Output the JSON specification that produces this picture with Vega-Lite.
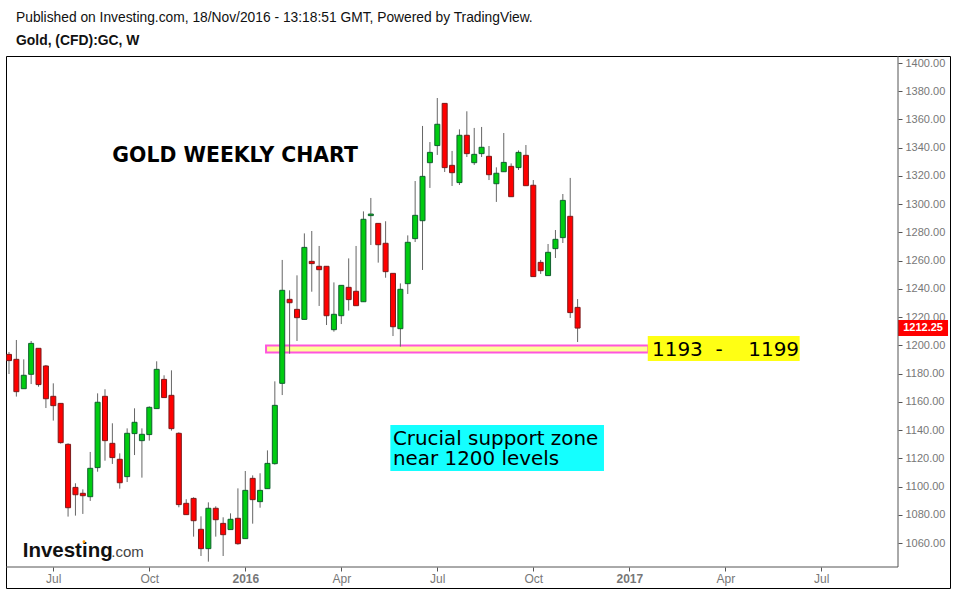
{"$schema":"https://vega.github.io/schema/vega-lite/v6.json","width":944,"height":532,"autosize":"none","padding":{"left":6,"top":56,"right":5,"bottom":3},"background":"white","config":{"view":{"stroke":"black","strokeWidth":1},"axis":{"grid":false}},"title":{"text":"Published on Investing.com, 18/Nov/2016 - 13:18:51 GMT, Powered by TradingView.","subtitle":"Gold, (CFD):GC, W","anchor":"start","frame":"group","dx":10,"offset":8,"font":"Liberation Sans","fontSize":13.8,"fontWeight":"normal","color":"#111","subtitleFont":"Liberation Sans","subtitleFontSize":13.9,"subtitleFontWeight":"bold","subtitleColor":"#111","subtitlePadding":9},"datasets":{"candles":[{"date":"2015-05-24","open":1193.6,"high":1195.3,"low":1179.7,"close":1189.2},{"date":"2015-05-31","open":1190.1,"high":1203.8,"low":1163.7,"close":1167.2},{"date":"2015-06-07","open":1169.3,"high":1190.1,"low":1169.3,"close":1178.8},{"date":"2015-06-14","open":1179.5,"high":1203.1,"low":1172.6,"close":1201.4},{"date":"2015-06-21","open":1197.9,"high":1197.9,"low":1170.7,"close":1172.2},{"date":"2015-06-28","open":1185.4,"high":1186.1,"low":1155.6,"close":1162.2},{"date":"2015-07-05","open":1163.9,"high":1173.1,"low":1146.7,"close":1157.3},{"date":"2015-07-12","open":1158.9,"high":1158.9,"low":1130.4,"close":1131.1},{"date":"2015-07-19","open":1129.9,"high":1130.6,"low":1078.7,"close":1085.0},{"date":"2015-07-26","open":1099.4,"high":1102.3,"low":1079.4,"close":1094.2},{"date":"2015-08-02","open":1095.2,"high":1098.0,"low":1080.6,"close":1093.5},{"date":"2015-08-09","open":1092.8,"high":1124.5,"low":1089.8,"close":1112.9},{"date":"2015-08-16","open":1113.4,"high":1166.0,"low":1110.5,"close":1159.7},{"date":"2015-08-23","open":1163.9,"high":1168.9,"low":1118.3,"close":1132.5},{"date":"2015-08-30","open":1130.6,"high":1144.8,"low":1116.0,"close":1120.5},{"date":"2015-09-06","open":1119.3,"high":1123.5,"low":1098.5,"close":1102.7},{"date":"2015-09-13","open":1107.0,"high":1141.2,"low":1103.2,"close":1137.7},{"date":"2015-09-20","open":1137.5,"high":1155.4,"low":1122.3,"close":1145.5},{"date":"2015-09-27","open":1132.5,"high":1141.2,"low":1106.3,"close":1137.0},{"date":"2015-10-04","open":1136.8,"high":1156.8,"low":1132.5,"close":1156.1},{"date":"2015-10-11","open":1155.2,"high":1188.7,"low":1155.2,"close":1183.0},{"date":"2015-10-18","open":1175.9,"high":1178.8,"low":1163.0,"close":1163.0},{"date":"2015-10-25","open":1164.6,"high":1182.3,"low":1139.6,"close":1141.0},{"date":"2015-11-01","open":1137.7,"high":1138.4,"low":1085.3,"close":1087.2},{"date":"2015-11-08","open":1088.1,"high":1091.0,"low":1080.1,"close":1080.1},{"date":"2015-11-15","open":1091.6,"high":1092.4,"low":1064.5,"close":1075.8},{"date":"2015-11-22","open":1069.7,"high":1078.9,"low":1050.8,"close":1056.0},{"date":"2015-11-29","open":1056.0,"high":1088.8,"low":1046.8,"close":1084.6},{"date":"2015-12-06","open":1084.6,"high":1086.0,"low":1064.5,"close":1076.5},{"date":"2015-12-13","open":1073.9,"high":1078.2,"low":1050.8,"close":1065.9},{"date":"2015-12-20","open":1069.5,"high":1081.0,"low":1069.5,"close":1076.8},{"date":"2015-12-27","open":1077.5,"high":1098.7,"low":1058.8,"close":1059.5},{"date":"2016-01-03","open":1063.1,"high":1111.0,"low":1063.1,"close":1097.3},{"date":"2016-01-10","open":1105.8,"high":1107.9,"low":1073.7,"close":1090.7},{"date":"2016-01-17","open":1089.3,"high":1109.4,"low":1085.0,"close":1097.3},{"date":"2016-01-24","open":1098.5,"high":1125.6,"low":1098.5,"close":1116.4},{"date":"2016-01-31","open":1116.2,"high":1174.5,"low":1115.5,"close":1157.5},{"date":"2016-02-07","open":1173.1,"high":1260.5,"low":1164.8,"close":1239.0},{"date":"2016-02-14","open":1232.6,"high":1239.0,"low":1194.1,"close":1230.2},{"date":"2016-02-21","open":1225.5,"high":1249.6,"low":1203.1,"close":1219.6},{"date":"2016-02-28","open":1218.4,"high":1279.3,"low":1218.4,"close":1269.4},{"date":"2016-03-06","open":1259.5,"high":1281.0,"low":1238.0,"close":1257.9},{"date":"2016-03-13","open":1256.0,"high":1270.4,"low":1227.9,"close":1253.6},{"date":"2016-03-20","open":1256.0,"high":1256.0,"low":1214.4,"close":1221.0},{"date":"2016-03-27","open":1211.1,"high":1244.6,"low":1209.7,"close":1222.0},{"date":"2016-04-03","open":1221.0,"high":1242.5,"low":1215.1,"close":1242.5},{"date":"2016-04-10","open":1241.1,"high":1261.6,"low":1224.6,"close":1232.4},{"date":"2016-04-17","open":1238.3,"high":1270.4,"low":1228.1,"close":1228.1},{"date":"2016-04-24","open":1230.9,"high":1294.9,"low":1230.9,"close":1289.3},{"date":"2016-05-01","open":1291.9,"high":1304.4,"low":1271.1,"close":1293.0},{"date":"2016-05-08","open":1286.4,"high":1286.4,"low":1258.6,"close":1271.3},{"date":"2016-05-15","open":1272.3,"high":1287.9,"low":1247.9,"close":1252.2},{"date":"2016-05-22","open":1251.0,"high":1251.0,"low":1206.6,"close":1213.2},{"date":"2016-05-29","open":1211.8,"high":1243.9,"low":1199.1,"close":1239.7},{"date":"2016-06-05","open":1243.7,"high":1277.9,"low":1236.4,"close":1273.0},{"date":"2016-06-12","open":1275.6,"high":1316.4,"low":1273.2,"close":1292.1},{"date":"2016-06-19","open":1288.3,"high":1355.4,"low":1253.4,"close":1319.7},{"date":"2016-06-26","open":1329.4,"high":1344.0,"low":1311.5,"close":1336.7},{"date":"2016-07-03","open":1341.5,"high":1375.2,"low":1334.9,"close":1356.6},{"date":"2016-07-10","open":1371.4,"high":1371.4,"low":1322.8,"close":1325.9},{"date":"2016-07-17","open":1327.5,"high":1337.7,"low":1312.9,"close":1322.3},{"date":"2016-07-24","open":1315.3,"high":1353.0,"low":1313.6,"close":1348.8},{"date":"2016-07-31","open":1348.8,"high":1365.8,"low":1333.4,"close":1335.8},{"date":"2016-08-07","open":1329.4,"high":1354.0,"low":1327.8,"close":1335.3},{"date":"2016-08-14","open":1335.8,"high":1354.7,"low":1333.4,"close":1340.3},{"date":"2016-08-21","open":1333.9,"high":1341.2,"low":1317.1,"close":1320.9},{"date":"2016-08-28","open":1314.5,"high":1326.1,"low":1301.6,"close":1321.9},{"date":"2016-09-04","open":1323.0,"high":1350.4,"low":1323.0,"close":1329.6},{"date":"2016-09-11","open":1326.8,"high":1328.9,"low":1305.3,"close":1305.3},{"date":"2016-09-18","open":1325.9,"high":1338.1,"low":1324.2,"close":1336.7},{"date":"2016-09-25","open":1334.6,"high":1341.9,"low":1313.1,"close":1313.1},{"date":"2016-10-02","open":1313.4,"high":1317.1,"low":1248.7,"close":1248.7},{"date":"2016-10-09","open":1258.8,"high":1260.5,"low":1250.6,"close":1252.9},{"date":"2016-10-16","open":1249.4,"high":1271.8,"low":1249.4,"close":1265.9},{"date":"2016-10-23","open":1268.5,"high":1281.7,"low":1261.9,"close":1275.1},{"date":"2016-10-30","open":1276.3,"high":1307.2,"low":1272.5,"close":1302.7},{"date":"2016-11-06","open":1291.4,"high":1318.6,"low":1219.4,"close":1223.2},{"date":"2016-11-13","open":1226.9,"high":1232.8,"low":1202.4,"close":1212.25}],"boxes":[{"date":"2017-01-18T12:00:00Z","date2":"2017-06-11T12:00:00Z","value":1188.9,"value2":1206.6,"kind":"range"},{"date":"2016-05-19T12:00:00Z","date2":"2016-12-08T00:00:00Z","value":1111.0,"value2":1143.6,"kind":"note"},{"date":"2017-09-12T17:00:00Z","date2":"2017-10-30T03:00:00Z","value":1206.6,"value2":1218.0,"kind":"price"}]},"data":{"name":"candles"},"encoding":{"x":{"field":"date","type":"temporal","title":null,"scale":{"type":"utc","padding":0,"domain":[{"year":2015,"month":5,"date":21,"hours":4,"utc":true},{"year":2017,"month":11,"date":1,"utc":true}]},"axis":{"orient":"bottom","offset":-21,"domain":false,"tickSize":4,"tickColor":"#555","labelColor":"#777","labelFont":"Liberation Sans","labelFontSize":12,"labelPadding":2,"labelOverlap":false,"labelFlush":false,"labelBound":false,"labelExpr":"utcFormat(datum.value, utcmonth(datum.value)==0 ? '%Y' : '%b')","labelFontWeight":{"condition":{"test":"utcmonth(datum.value)==0","value":"bold"},"value":"normal"},"values":[{"year":2015,"month":7,"date":5,"utc":true},{"year":2015,"month":10,"date":4,"utc":true},{"year":2016,"month":1,"date":3,"utc":true},{"year":2016,"month":4,"date":3,"utc":true},{"year":2016,"month":7,"date":3,"utc":true},{"year":2016,"month":10,"date":2,"utc":true},{"year":2017,"month":1,"date":1,"utc":true},{"year":2017,"month":4,"date":2,"utc":true},{"year":2017,"month":7,"date":2,"utc":true}]}},"y":{"field":"value","type":"quantitative","title":null,"scale":{"domain":[1028.13,1404.96],"nice":false,"zero":false},"axis":{"orient":"right","offset":-52,"domain":false,"tickSize":4,"tickColor":"#555","labelColor":"#777","labelFont":"Liberation Sans","labelFontSize":11,"labelPadding":3,"labelOverlap":false,"format":".2f","values":[1060,1080,1100,1120,1140,1160,1180,1200,1220,1240,1260,1280,1300,1320,1340,1360,1380,1400]}}},"layer":[{"data":{"values":[{"date":"2016-01-22T16:00:00Z","date2":"2017-01-19T00:00:00Z","value":1194.9,"value2":1199.9}]},"mark":{"type":"rect","fill":"#ffff99","stroke":"#ff55dd","strokeWidth":2},"encoding":{"x2":{"field":"date2"},"y2":{"field":"value2"}}},{"data":{"name":"boxes"},"mark":{"type":"rect"},"encoding":{"x2":{"field":"date2"},"y2":{"field":"value2"},"color":{"field":"kind","type":"nominal","legend":null,"scale":{"domain":["range","note","price"],"range":["#ffff14","#14ffff","#ff0000"]}}}},{"mark":{"type":"rule","color":"#666","strokeWidth":1},"encoding":{"y":{"field":"low","type":"quantitative"},"y2":{"field":"high"}}},{"mark":{"type":"bar","width":5,"strokeWidth":1},"encoding":{"y":{"field":"open","type":"quantitative"},"y2":{"field":"close"},"fill":{"condition":{"test":"datum.close>=datum.open","value":"#00cc11"},"value":"#ff0000"},"stroke":{"condition":{"test":"datum.close>=datum.open","value":"#105f2e"},"value":"#7b1a1a"}}},{"data":{"values":[{"date":"2015-05-21T04:00:00Z","date2":"2017-09-12T17:00:00Z","value":1043}]},"mark":{"type":"rule","color":"#555","strokeWidth":1},"encoding":{"x2":{"field":"date2"}}},{"data":{"values":[{"date":"2017-09-12T17:00:00Z","value":1043,"value2":1404.96}]},"mark":{"type":"rule","color":"#555","strokeWidth":1},"encoding":{"y2":{"field":"value2"}}},{"data":{"values":[{"date":"2015-08-30T00:00:00Z","value":1329.9,"label":"GOLD WEEKLY CHART"}]},"mark":{"type":"text","align":"left","baseline":"alphabetic","font":"DejaVu Sans","fontWeight":"bold","fontSize":20.4,"color":"#000"},"encoding":{"text":{"field":"label"}}},{"data":{"values":[{"date":"2017-01-22T11:00:00Z","value":1192.5,"label":"1193\u00a0\u00a0-\u00a0\u00a0\u00a0\u00a01199"}]},"mark":{"type":"text","align":"left","baseline":"alphabetic","font":"DejaVu Sans","fontSize":20,"color":"#000"},"encoding":{"text":{"field":"label"}}},{"data":{"values":[{"date":"2016-05-21T23:00:00Z","value":1129.4,"label":"Crucial support zone\nnear 1200 levels"}]},"mark":{"type":"text","align":"left","baseline":"alphabetic","font":"DejaVu Sans","fontSize":19.9,"lineBreak":"\n","lineHeight":20,"color":"#000"},"encoding":{"text":{"field":"label"}}},{"data":{"values":[{"date":"2015-06-06T00:00:00Z","value":1050.3,"label":"Investing"}]},"mark":{"type":"text","align":"left","baseline":"alphabetic","font":"Liberation Sans","fontWeight":"bold","fontSize":20.5,"color":"#111"},"encoding":{"text":{"field":"label"}}},{"data":{"values":[{"date":"2015-08-29T00:00:00Z","value":1050.3,"label":".com"}]},"mark":{"type":"text","align":"left","baseline":"alphabetic","font":"Liberation Sans","fontSize":15,"color":"#444"},"encoding":{"text":{"field":"label"}}},{"data":{"values":[{"date":"2015-08-03T02:00:00Z","value":1060.9}]},"mark":{"type":"point","filled":true,"size":8,"color":"#ff9900","opacity":1}},{"data":{"values":[{"date":"2017-10-06T12:00:00Z","value":1212.25,"label":"1212.25"}]},"mark":{"type":"text","align":"center","baseline":"middle","font":"Liberation Sans","fontWeight":"bold","fontSize":11,"color":"white"},"encoding":{"text":{"field":"label"}}}]}
